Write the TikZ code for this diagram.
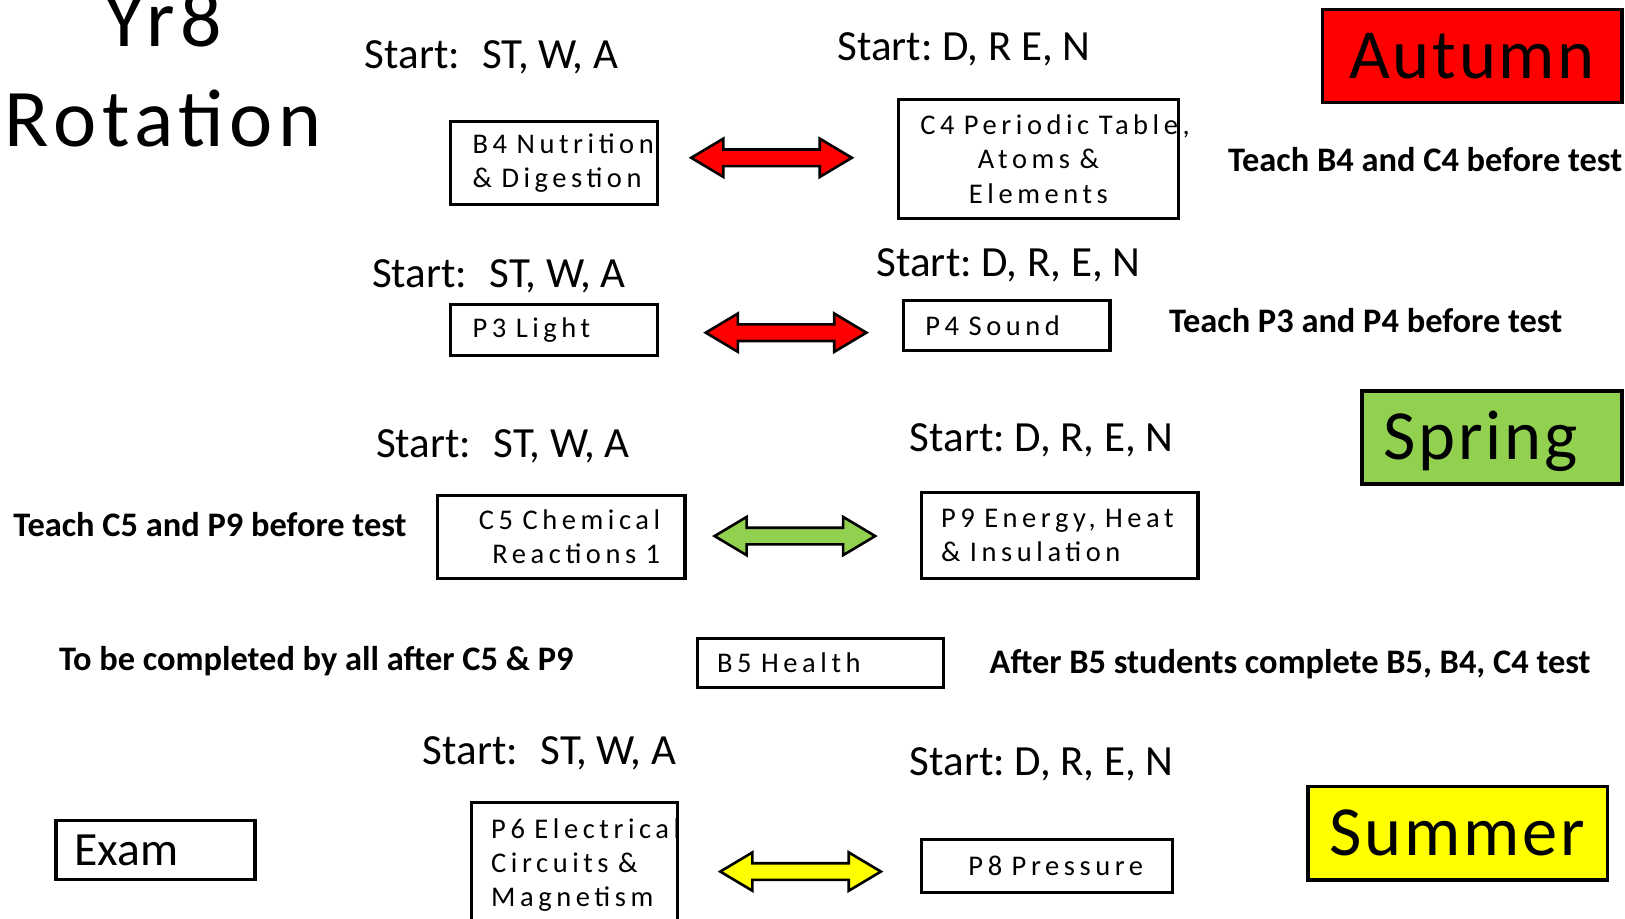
\documentclass[tikz,border=0pt]{standalone}
\usepackage{fontspec}
\setmainfont{Carlito}
\newfontfamily\boxf{Carlito}[LetterSpace=16]
\newfontfamily\bigf{Carlito}[LetterSpace=4]
\newfontfamily\titf{Carlito}[LetterSpace=7]
\usetikzlibrary{calc}
\definecolor{cRed}{RGB}{255,0,0}
\definecolor{cGreen}{RGB}{146,208,80}
\definecolor{cYellow}{RGB}{255,255,0}
\tikzset{
  every node/.style={inner sep=0pt, outer sep=0pt},
  box/.style={draw=black, line width=3pt, fill=white, font=\boxf\fontsize{27.5}{33}\selectfont},
  season/.style={draw=black, line width=3.5pt, minimum height=90pt, text height=43pt, text depth=0pt, font=\bigf\fontsize{68}{76}\selectfont},
  startlbl/.style={anchor=base west, font=\frenchspacing\fontsize{41.5}{48}\selectfont},
  note/.style={anchor=base west, font=\bfseries\fontsize{33.2}{40}\selectfont},
  dbl/.style={draw=black, line width=2.5pt, line join=miter},
  dblarrow/.pic={\draw[pic actions] (-77.5,0) -- (-46.5,-18.5) -- (-46.5,-8) -- (46.5,-8) -- (46.5,-18.5) -- (77.5,0) -- (46.5,18.5) -- (46.5,8) -- (-46.5,8) -- (-46.5,18.5) -- cycle;},
}
\begin{document}
\begin{tikzpicture}[x=1pt,y=-1pt]
\fill[white] (0,0) rectangle (1568,886);
\useasboundingbox (0,0) rectangle (1568,886);

% title
\node[font=\titf\fontsize{79}{96.5}\selectfont, align=center, anchor=south] (title) at (157.5,141.5) {Yr8\\Rotation};

% start labels
\node[startlbl] (s1l) at (352,66) {Start:\ \ \kern3pt ST, W, A};
\node[startlbl] (s1r) at (808,58) {Start: D, R E, N};
\node[startlbl] (s2l) at (359,277) {Start:\ \ \kern3pt ST, W, A};
\node[startlbl] (s2r) at (846,267) {Start: D, R, E, N};
\node[startlbl] (s3l) at (363,441) {Start:\ \ \kern3pt ST, W, A};
\node[startlbl] (s3r) at (878,436) {Start: D, R, E, N};
\node[startlbl] (s5l) at (408,738) {Start:\ \ \kern3pt ST, W, A};
\node[startlbl] (s5r) at (878,748) {Start: D, R, E, N};

% notes
\node[note] (n1) at (1185,165.5) {Teach B4 and C4 before test};
\node[note] (n2) at (1128,321) {Teach P3 and P4 before test};
\node[note] (n3) at (13,518) {Teach C5 and P9 before test};
\node[note] (n4) at (57,647) {To be completed by all after C5 \& P9};
\node[note] (n5) at (955,650) {After B5 students complete B5, B4, C4 test};

% seasons
\node[season, fill=cRed, minimum width=289pt] (autumn) at (1420.5,54) {Autumn};
\node[season, fill=cGreen, minimum width=251pt, text width=209pt, align=left] (spring) at (1439.5,422) {Spring};
\node[season, fill=cYellow, minimum width=289pt] (summer) at (1406.5,804) {Summer};

% topic boxes
\node[box, minimum width=199pt, minimum height=80pt, text width=157pt, align=left] (b4) at (534.5,157) {\mbox{B4 Nutrition}\\ \mbox{\& Digestion}};
\node[box, minimum width=270pt, minimum height=115pt, text width=228pt, align=center] (c4) at (1002,153.5) {\mbox{C4 Periodic Table,}\\ \mbox{Atoms \&}\\ \mbox{Elements}};
\node[box, minimum width=199pt, minimum height=49pt, text width=157pt, align=left] (p3) at (534.5,318.5) {\mbox{P3 Light}};
\node[box, minimum width=199pt, minimum height=48pt, text width=157pt, align=left] (p4) at (971.5,314) {\mbox{P4 Sound}};
\node[box, minimum width=239pt, minimum height=80pt, text width=191pt, align=right] (c5) at (541.5,518) {\mbox{C5 Chemical}\\ \mbox{Reactions 1}};
\node[box, minimum width=267pt, minimum height=83pt, text width=229pt, align=left] (p9) at (1022.5,516.5) {\mbox{P9 Energy, Heat}\\ \mbox{\& Insulation}};
\node[box, minimum width=237pt, minimum height=47pt, text width=199pt, align=left] (b5) at (791.5,639.5) {\mbox{B5 Health}};
\node[box, font=\fontsize{46}{54}\selectfont, minimum width=192pt, minimum height=57pt, text width=156pt, align=left] (exam) at (150,820.5) {Exam};
\node[box, anchor=north, minimum width=199pt, text width=161pt, inner ysep=16pt, text depth=100pt, align=left] (p6) at (554.5,774) {\mbox{P6 Electrical}\\ \mbox{Circuits \&}\\ \mbox{Magnetism}};
\node[box, minimum width=242pt, minimum height=51pt, text width=186pt, align=right] (p8) at (1010,835.5) {\mbox{P8 Pressure}};

% double arrows
\pic[dbl, fill=cRed] at ($(b4.east)!0.5!(c4.west)+(-6,-3)$) {dblarrow};
\pic[dbl, fill=cRed] at ($(p3.east)!0.5!(p4.west)+(5.5,4.75)$) {dblarrow};
\pic[dbl, fill=cGreen] at ($(c5.east)!0.5!(p9.west)+(-8,0)$) {dblarrow};
\pic[dbl, fill=cYellow] at ($(p8.west)+(-116.5,5.5)$) {dblarrow};
\end{tikzpicture}
\end{document}
